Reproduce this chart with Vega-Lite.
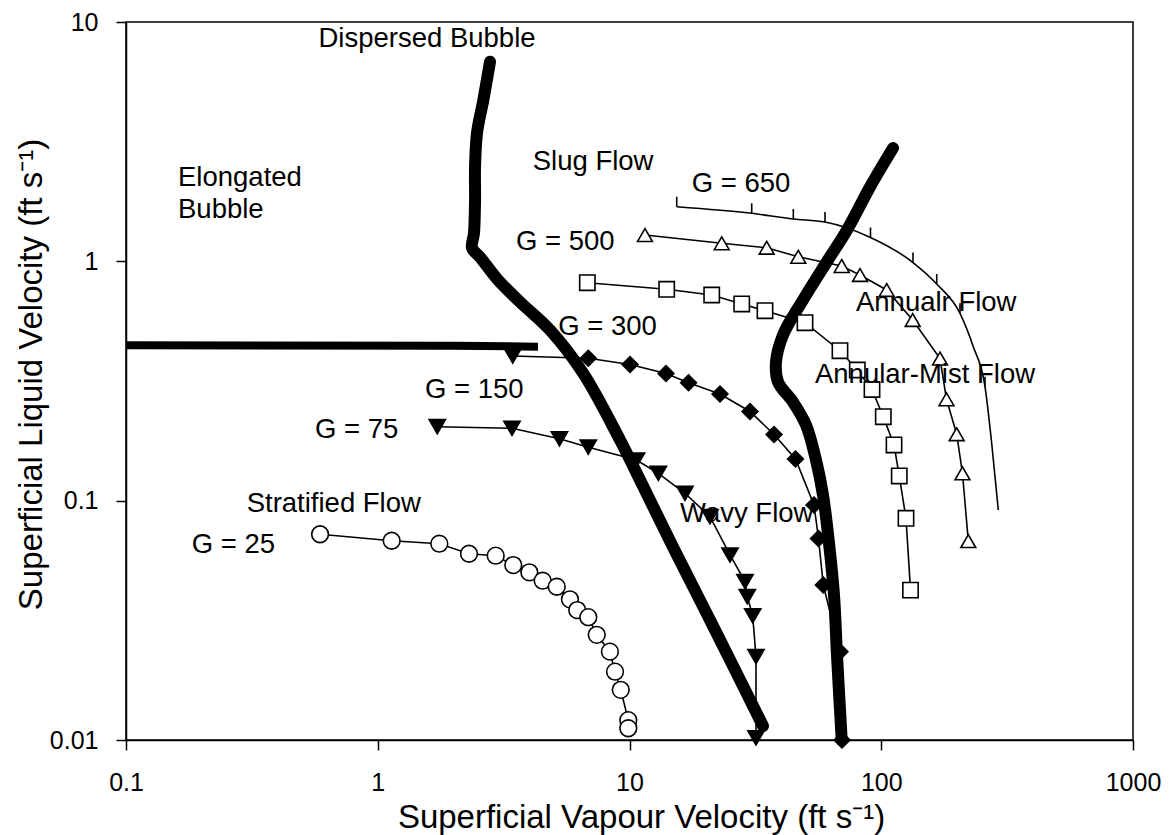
{
 "$schema": "https://vega.github.io/schema/vega-lite/v6.json",
 "width": 1007,
 "height": 718,
 "autosize": {"type": "none"},
 "padding": {"left": 126, "top": 22, "right": 36, "bottom": 95},
 "background": "white",
 "config": {
  "font": "Liberation Sans",
  "view": {"stroke": "black", "strokeWidth": 1.5},
  "axis": {"grid": false, "domainColor": "black", "domainWidth": 1.5, "tickColor": "black", "tickWidth": 1.5, "tickSize": 10,
   "labelColor": "black", "labelFont": "Liberation Sans", "labelFontSize": 25, "labelFlush": false, "labelOverlap": false,
   "titleColor": "black", "titleFont": "Liberation Sans", "titleFontSize": 33, "titleFontWeight": "normal"}
 },
 "datasets": {
  "series": [
   {"G": "G = 25", "marker": "G = 25", "vx": 0.59, "vl": 0.0724},
   {"G": "G = 25", "marker": "G = 25", "vx": 1.136, "vl": 0.068},
   {"G": "G = 25", "marker": "G = 25", "vx": 1.756, "vl": 0.0661},
   {"G": "G = 25", "marker": "G = 25", "vx": 2.304, "vl": 0.060},
   {"G": "G = 25", "marker": "G = 25", "vx": 2.941, "vl": 0.0589},
   {"G": "G = 25", "marker": "G = 25", "vx": 3.454, "vl": 0.0538},
   {"G": "G = 25", "marker": "G = 25", "vx": 4.0, "vl": 0.0502},
   {"G": "G = 25", "marker": "G = 25", "vx": 4.52, "vl": 0.0463},
   {"G": "G = 25", "marker": "G = 25", "vx": 5.14, "vl": 0.0437},
   {"G": "G = 25", "marker": "G = 25", "vx": 5.80, "vl": 0.0387},
   {"G": "G = 25", "marker": "G = 25", "vx": 6.20, "vl": 0.0349},
   {"G": "G = 25", "marker": "G = 25", "vx": 6.86, "vl": 0.0326},
   {"G": "G = 25", "marker": "G = 25", "vx": 7.41, "vl": 0.0275},
   {"G": "G = 25", "marker": "G = 25", "vx": 8.36, "vl": 0.0234},
   {"G": "G = 25", "marker": "G = 25", "vx": 8.76, "vl": 0.0193},
   {"G": "G = 25", "marker": "G = 25", "vx": 9.23, "vl": 0.0162},
   {"G": "G = 25", "marker": "G = 25", "vx": 9.89, "vl": 0.0121},
   {"G": "G = 25", "marker": "G = 25", "vx": 9.89, "vl": 0.0112},
   {"G": "G = 75", "marker": "G = 75", "vx": 1.724, "vl": 0.2037},
   {"G": "G = 75", "marker": "G = 75", "vx": 3.414, "vl": 0.2006},
   {"G": "G = 75", "marker": "G = 75", "vx": 5.27, "vl": 0.1814},
   {"G": "G = 75", "marker": "G = 75", "vx": 6.86, "vl": 0.1673},
   {"G": "G = 75", "marker": "G = 75", "vx": 10.66, "vl": 0.1479},
   {"G": "G = 75", "marker": "G = 75", "vx": 13.02, "vl": 0.1301},
   {"G": "G = 75", "marker": "G = 75", "vx": 16.61, "vl": 0.1074},
   {"G": "G = 75", "marker": "G = 75", "vx": 20.88, "vl": 0.0857},
   {"G": "G = 75", "marker": "G = 75", "vx": 25.07, "vl": 0.0593},
   {"G": "G = 75", "marker": "G = 75", "vx": 28.76, "vl": 0.0459},
   {"G": "G = 75", "marker": "G = 75", "vx": 29.37, "vl": 0.0397},
   {"G": "G = 75", "marker": "G = 75", "vx": 30.86, "vl": 0.0330},
   {"G": "G = 75", "marker": "G = 75", "vx": 31.80, "vl": 0.0223},
   {"G": "G = 75", "marker": "G = 75", "vx": 31.80, "vl": 0.0102},
   {"G": "G = 150", "marker": "G = 75", "vx": 3.436, "vl": 0.4022},
   {"G": "G = 150", "marker": "G = 150", "vx": 6.86, "vl": 0.3934},
   {"G": "G = 150", "marker": "G = 150", "vx": 10.05, "vl": 0.3706},
   {"G": "G = 150", "marker": "G = 150", "vx": 13.96, "vl": 0.3399},
   {"G": "G = 150", "marker": "G = 150", "vx": 17.16, "vl": 0.3111},
   {"G": "G = 150", "marker": "G = 150", "vx": 22.88, "vl": 0.2791},
   {"G": "G = 150", "marker": "G = 150", "vx": 30.10, "vl": 0.2358},
   {"G": "G = 150", "marker": "G = 150", "vx": 37.5, "vl": 0.1890},
   {"G": "G = 150", "marker": "G = 150", "vx": 45.64, "vl": 0.1493},
   {"G": "G = 150", "marker": "G = 150", "vx": 54.06, "vl": 0.0959},
   {"G": "G = 150", "marker": "G = 150", "vx": 56.33, "vl": 0.0695},
   {"G": "G = 150", "marker": "G = 150", "vx": 58.85, "vl": 0.0444},
   {"G": "G = 150", "marker": "G = 150", "vx": 68.56, "vl": 0.0234},
   {"G": "G = 150", "marker": "G = 150", "vx": 69.84, "vl": 0.01},
   {"G": "G = 300", "marker": "G = 300", "vx": 6.80, "vl": 0.8142},
   {"G": "G = 300", "marker": "G = 300", "vx": 14.05, "vl": 0.7641},
   {"G": "G = 300", "marker": "G = 300", "vx": 21.21, "vl": 0.7233},
   {"G": "G = 300", "marker": "G = 300", "vx": 27.91, "vl": 0.6634},
   {"G": "G = 300", "marker": "G = 300", "vx": 34.53, "vl": 0.6219},
   {"G": "G = 300", "marker": "G = 300", "vx": 49.79, "vl": 0.5541},
   {"G": "G = 300", "marker": "G = 300", "vx": 68.56, "vl": 0.4232},
   {"G": "G = 300", "marker": "G = 300", "vx": 80.33, "vl": 0.3515},
   {"G": "G = 300", "marker": "G = 300", "vx": 91.89, "vl": 0.2914},
   {"G": "G = 300", "marker": "G = 300", "vx": 101.9, "vl": 0.2243},
   {"G": "G = 300", "marker": "G = 300", "vx": 112.4, "vl": 0.1709},
   {"G": "G = 300", "marker": "G = 300", "vx": 117.9, "vl": 0.1268},
   {"G": "G = 300", "marker": "G = 300", "vx": 125.4, "vl": 0.0844},
   {"G": "G = 300", "marker": "G = 300", "vx": 130.7, "vl": 0.0423},
   {"G": "G = 500", "marker": "G = 500", "vx": 11.52, "vl": 1.288},
   {"G": "G = 500", "marker": "G = 500", "vx": 23.24, "vl": 1.190},
   {"G": "G = 500", "marker": "G = 500", "vx": 35.07, "vl": 1.140},
   {"G": "G = 500", "marker": "G = 500", "vx": 46.83, "vl": 1.045},
   {"G": "G = 500", "marker": "G = 500", "vx": 69.65, "vl": 0.956},
   {"G": "G = 500", "marker": "G = 500", "vx": 82.34, "vl": 0.877},
   {"G": "G = 500", "marker": "G = 500", "vx": 105.1, "vl": 0.759},
   {"G": "G = 500", "marker": "G = 500", "vx": 133.3, "vl": 0.5687},
   {"G": "G = 500", "marker": "G = 500", "vx": 171.2, "vl": 0.3926},
   {"G": "G = 500", "marker": "G = 500", "vx": 181.6, "vl": 0.2652},
   {"G": "G = 500", "marker": "G = 500", "vx": 199.4, "vl": 0.1895},
   {"G": "G = 500", "marker": "G = 500", "vx": 210.2, "vl": 0.1301},
   {"G": "G = 500", "marker": "G = 500", "vx": 221.7, "vl": 0.0678}
  ],
  "g650": [
   {"vx": 15.40, "vl": 1.691, "tick": true},
   {"vx": 30.58, "vl": 1.587, "tick": true},
   {"vx": 44.74, "vl": 1.503, "tick": true},
   {"vx": 59.78, "vl": 1.460, "tick": true},
   {"vx": 90.63, "vl": 1.258, "tick": true},
   {"vx": 133.7, "vl": 0.9888, "tick": true},
   {"vx": 166.1, "vl": 0.8042, "tick": true},
   {"vx": 205.5, "vl": 0.6066, "tick": true},
   {"vx": 232.1, "vl": 0.4397, "tick": false},
   {"vx": 258.3, "vl": 0.2994, "tick": true},
   {"vx": 274.6, "vl": 0.1737, "tick": false},
   {"vx": 291.7, "vl": 0.0914, "tick": false}
  ],
  "boundaries": [
   {"boundary": "Dispersed", "vx": 2.792, "vl": 6.826},
   {"boundary": "Dispersed", "vx": 2.627, "vl": 4.722},
   {"boundary": "Dispersed", "vx": 2.479, "vl": 3.438},
   {"boundary": "Dispersed", "vx": 2.435, "vl": 2.478},
   {"boundary": "Dispersed", "vx": 2.435, "vl": 1.804},
   {"boundary": "Dispersed", "vx": 2.412, "vl": 1.313},
   {"boundary": "Dispersed", "vx": 2.369, "vl": 1.137},
   {"boundary": "Dispersed", "vx": 2.548, "vl": 1.042},
   {"boundary": "Dispersed", "vx": 3.004, "vl": 0.8356},
   {"boundary": "Dispersed", "vx": 3.673, "vl": 0.6764},
   {"boundary": "Dispersed", "vx": 4.833, "vl": 0.5164},
   {"boundary": "Dispersed", "vx": 6.537, "vl": 0.3415},
   {"boundary": "Dispersed", "vx": 9.17, "vl": 0.1793},
   {"boundary": "Dispersed", "vx": 11.01, "vl": 0.1220},
   {"boundary": "Dispersed", "vx": 14.89, "vl": 0.0640},
   {"boundary": "Dispersed", "vx": 19.67, "vl": 0.0359},
   {"boundary": "Dispersed", "vx": 25.42, "vl": 0.0210},
   {"boundary": "Dispersed", "vx": 33.9, "vl": 0.01144},
   {"boundary": "Annular", "vx": 111.4, "vl": 2.975},
   {"boundary": "Annular", "vx": 90.22, "vl": 2.045},
   {"boundary": "Annular", "vx": 73.11, "vl": 1.352},
   {"boundary": "Annular", "vx": 60.71, "vl": 0.9936},
   {"boundary": "Annular", "vx": 48.89, "vl": 0.6896},
   {"boundary": "Annular", "vx": 40.72, "vl": 0.4925},
   {"boundary": "Annular", "vx": 38.19, "vl": 0.3796},
   {"boundary": "Annular", "vx": 38.90, "vl": 0.3131},
   {"boundary": "Annular", "vx": 44.61, "vl": 0.2584},
   {"boundary": "Annular", "vx": 50.25, "vl": 0.2071},
   {"boundary": "Annular", "vx": 55.06, "vl": 0.1479},
   {"boundary": "Annular", "vx": 58.69, "vl": 0.1056},
   {"boundary": "Annular", "vx": 62.01, "vl": 0.0665},
   {"boundary": "Annular", "vx": 64.91, "vl": 0.0403},
   {"boundary": "Annular", "vx": 66.71, "vl": 0.0226},
   {"boundary": "Annular", "vx": 69.65, "vl": 0.01},
   {"boundary": "Stratified", "vx": 0.1, "vl": 0.446},
   {"boundary": "Stratified", "vx": 2.0, "vl": 0.444},
   {"boundary": "Stratified", "vx": 4.33, "vl": 0.440}
  ],
  "labels": [
   {"label": "Dispersed Bubble", "vx": 0.5816, "vl": 7.864},
   {"label": "Elongated", "vx": 0.1609, "vl": 2.064},
   {"label": "Bubble", "vx": 0.1609, "vl": 1.517},
   {"label": "Slug Flow", "vx": 4.126, "vl": 2.408},
   {"label": "G = 650", "vx": 17.66, "vl": 1.954},
   {"label": "G = 500", "vx": 3.541, "vl": 1.115},
   {"label": "G = 300", "vx": 5.214, "vl": 0.4925},
   {"label": "G = 150", "vx": 1.541, "vl": 0.2678},
   {"label": "G = 75", "vx": 0.5632, "vl": 0.1822},
   {"label": "Stratified Flow", "vx": 0.3015, "vl": 0.0899},
   {"label": "G = 25", "vx": 0.1824, "vl": 0.0603},
   {"label": "Wavy Flow", "vx": 15.87, "vl": 0.0817},
   {"label": "Annualr Flow", "vx": 79.37, "vl": 0.6219},
   {"label": "Annular-Mist Flow", "vx": 54.55, "vl": 0.3093}
  ]
 },
 "encoding": {
  "x": {"field": "vx", "type": "quantitative",
   "scale": {"type": "log", "domain": [0.1, 1000], "nice": false},
   "axis": {"values": [0.1, 1, 10, 100, 1000], "format": "~g", "labelPadding": 20,
    "title": "Superficial Vapour Velocity (ft s⁻¹)", "titleX": 515, "titleY": 87, "titleBaseline": "alphabetic"}},
  "y": {"field": "vl", "type": "quantitative",
   "scale": {"type": "log", "domain": [0.01, 10], "nice": false},
   "axis": {"values": [0.01, 0.1, 1, 10], "format": "~g", "labelPadding": 18,
    "title": "Superficial Liquid Velocity (ft s⁻¹)", "titleX": -85, "titleY": 352, "titleAngle": 270, "titleBaseline": "alphabetic"}}
 },
 "layer": [
  {"data": {"name": "series"},
   "mark": {"type": "line", "color": "black", "strokeWidth": 1.6},
   "encoding": {"detail": {"field": "G", "type": "nominal"}, "order": {"value": null}}},
  {"data": {"name": "g650"},
   "mark": {"type": "line", "color": "black", "strokeWidth": 1.6, "interpolate": "monotone"},
   "encoding": {"order": {"value": null}}},
  {"data": {"name": "boundaries"},
   "transform": [{"filter": "datum.boundary != 'Stratified'"}],
   "mark": {"type": "line", "color": "black", "strokeWidth": 12, "strokeCap": "round", "strokeJoin": "round", "interpolate": "catmull-rom"},
   "encoding": {"detail": {"field": "boundary", "type": "nominal"}, "order": {"value": null}}},
  {"data": {"name": "boundaries"},
   "transform": [{"filter": "datum.boundary == 'Stratified'"}],
   "mark": {"type": "line", "color": "black", "strokeWidth": 8, "strokeCap": "butt"},
   "encoding": {"order": {"value": null}}},
  {"data": {"name": "series"},
   "mark": {"type": "point", "filled": true, "stroke": "black", "strokeWidth": 1.6, "opacity": 1},
   "encoding": {
    "shape": {"field": "marker", "type": "nominal", "legend": null,
     "scale": {"domain": ["G = 25", "G = 75", "G = 150", "G = 300", "G = 500"], "range": ["circle", "triangle-down", "diamond", "square", "triangle-up"]}},
    "fill": {"field": "marker", "type": "nominal", "legend": null,
     "scale": {"domain": ["G = 25", "G = 75", "G = 150", "G = 300", "G = 500"], "range": ["white", "black", "black", "white", "white"]}},
    "size": {"field": "marker", "type": "nominal", "legend": null,
     "scale": {"domain": ["G = 25", "G = 75", "G = 150", "G = 300", "G = 500"], "range": [280, 220, 300, 260, 300]}}
   }},
  {"data": {"name": "g650"},
   "transform": [{"filter": "datum.tick"}],
   "mark": {"type": "point", "shape": "M0,-1L0,0", "size": 400, "filled": false, "stroke": "black", "strokeWidth": 1.6, "opacity": 1}},
  {"data": {"name": "labels"},
   "mark": {"type": "text", "align": "left", "baseline": "alphabetic", "fontSize": 27.5, "font": "Liberation Sans", "color": "black"},
   "encoding": {"text": {"field": "label", "type": "nominal"}}}
 ]
}
